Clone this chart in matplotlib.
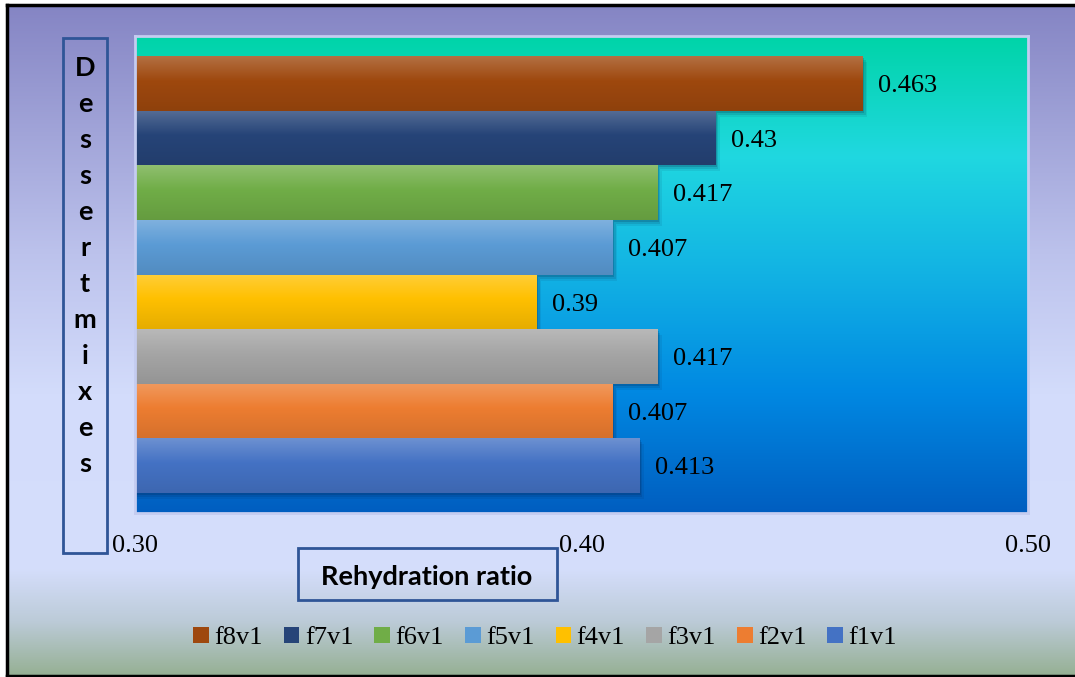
import numpy as np
import matplotlib
matplotlib.use("Agg")
import matplotlib.pyplot as plt
from matplotlib.colors import to_rgb, LinearSegmentedColormap
from matplotlib.patches import Rectangle
from matplotlib.lines import Line2D

# rehydration ratio per dessert mix, bottom bar first
mixes = ["f1v1", "f2v1", "f3v1", "f4v1", "f5v1", "f6v1", "f7v1", "f8v1"]
ratio = [0.413, 0.407, 0.417, 0.39, 0.407, 0.417, 0.43, 0.463]
colors = ["#4472C4", "#ED7D31", "#A5A5A5", "#FFC000",
          "#5B9BD5", "#70AD47", "#264478", "#9E480E"]
xticks = [0.30, 0.40, 0.50]

W, H = 1075, 677
fig = plt.figure(figsize=(W / 100, H / 100), dpi=100, facecolor="white")


def vgrad(stops, n=256):
    cm = LinearSegmentedColormap.from_list("g", stops)
    return cm(np.linspace(0, 1, n))[:, None, :3]


# chart area background inside the black frame
bg = fig.add_axes([7 / W, 1 / H, 1 - 7 / W, (676 - 5) / H])
bg.set_axis_off()
bg.imshow(vgrad([(0.0, "#8585c4"), (0.37, "#bcc2ec"), (0.58, "#d3dcfb"),
                 (0.84, "#d5defc"), (0.92, "#bccbd8"), (1.0, "#96b094")]),
          aspect="auto", extent=[0, 1, 0, 1], origin="upper")
bg.set_xlim(0, 1)
bg.set_ylim(0, 1)

# black frame (left, top, bottom)
for xs, ys in [([7 / W, 7 / W], [1 / H, 1 - 5 / H]),
               ([7 / W, 1], [1 - 5 / H, 1 - 5 / H]),
               ([7 / W, 1], [1 / H, 1 / H])]:
    fig.add_artist(Line2D(xs, ys, color="black", lw=2.5, transform=fig.transFigure))

ax = fig.add_axes([135 / W, 1 - 513 / H, 893 / W, 477 / H])
ax.imshow(vgrad([(0.0, "#00d4a8"), (0.25, "#20d8e0"), (0.5, "#12b2e4"),
                 (0.75, "#0088e2"), (1.0, "#005ec0")]),
          aspect="auto", extent=[0, 1, 0, 1], origin="upper",
          transform=ax.transAxes, zorder=0)

ypos = np.arange(len(mixes))
bars = ax.barh(ypos, [r - xticks[0] for r in ratio], left=xticks[0], height=1.0,
               color=colors, zorder=2)

px = (xticks[-1] - xticks[0]) / 893
py = 1 / 54.5
for b, c in zip(bars, colors):
    x0, y0 = b.get_x(), b.get_y()
    w, h = b.get_width(), b.get_height()
    # soft drop shadow
    for k, a in [(6, 0.08), (4, 0.12), (2, 0.18)]:
        ax.add_patch(Rectangle((x0, y0 - k * py), w + k * px * 0.7, h,
                               facecolor="#0a1a40", alpha=a, lw=0, zorder=1.5))
    base = np.array(to_rgb(c))
    top = base + (1 - base) * 0.22
    bot = base * 0.9
    g = vgrad([(0, top), (0.45, base), (1, bot)])
    im = ax.imshow(g, aspect="auto", extent=[x0, x0 + w, y0, y0 + h],
                   origin="upper", zorder=2.5)
    im.set_clip_path(b)

for y, r in zip(ypos, ratio):
    ax.annotate(f"{r}", xy=(r, y), xytext=(11, -2), textcoords="offset points",
                va="center", ha="left", fontsize=19, family="Liberation Serif",
                zorder=4)

ax.set_xlim(xticks[0], xticks[-1])
ax.set_ylim(-0.87, len(mixes) - 1 + 0.87)
ax.set_xticks(xticks)
ax.set_xticklabels([f"{t:.2f}" for t in xticks], family="Liberation Serif",
                   fontsize=19)
ax.tick_params(axis="x", length=0, pad=16)
ax.set_yticks([])
for s in ax.spines.values():
    s.set_color("#c4ccf0")
    s.set_linewidth(2)

# vertical axis title, one letter per line, in a box
fig.add_artist(Rectangle((63 / W, 1 - 553 / H), 44 / W, (553 - 38) / H,
                         transform=fig.transFigure, fill=False,
                         edgecolor="#2f5597", lw=2))
for i, ch in enumerate("Dessertmixes"):
    fig.text(85 / W, 1 - (68 + i * 36) / H, ch, ha="center", va="center",
             fontsize=19.5, fontweight="bold", family="Lato")

# horizontal axis title in a box
fig.add_artist(Rectangle((298 / W, 1 - 600 / H), 259 / W, 52 / H,
                         transform=fig.transFigure, fill=False,
                         edgecolor="#2f5597", lw=2))
fig.text(427 / W, 1 - 577 / H, "Rehydration ratio", ha="center", va="center",
         fontsize=19.5, fontweight="bold", family="Lato")

handles = [Rectangle((0, 0), 1, 1, facecolor=c) for c in colors[::-1]]
fig.legend(handles, mixes[::-1], loc="center", ncol=8, frameon=False,
           bbox_to_anchor=(545 / W, 1 - 638 / H),
           prop={"family": "Liberation Serif", "size": 19},
           handlelength=0.6, handleheight=0.6, handletextpad=0.2,
           columnspacing=0.8)

fig.savefig("out.png", dpi=100, facecolor="white")
